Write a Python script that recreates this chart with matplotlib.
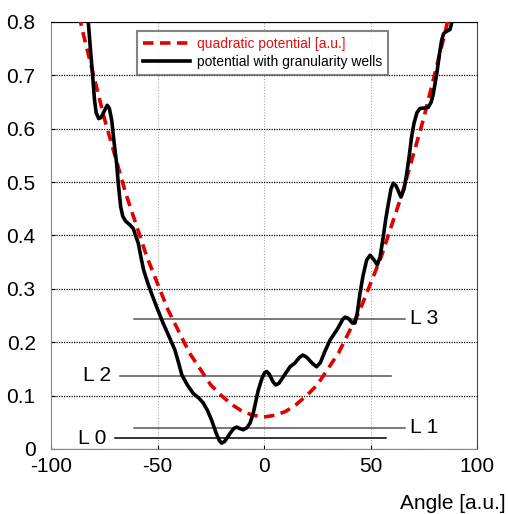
import matplotlib
matplotlib.use("Agg")
from matplotlib import pyplot as plt

plt.rcParams['font.family'] = ['Liberation Sans', 'DejaVu Sans']
plt.rcParams['axes.unicode_minus'] = False

# quadratic potential, read every 5 units
quad_x = [-90, -85, -80, -75, -70, -65, -60, -55, -50, -45, -40, -35, -30, -25, -20,
          -15, -10, -5, 0, 5, 10, 15, 20, 25, 30, 35, 40, 45, 50, 55, 60, 65, 70,
          75, 80, 85, 90]
quad_y = [0.87, 0.78, 0.70, 0.62, 0.55, 0.48, 0.42, 0.36, 0.31, 0.26, 0.22, 0.18,
          0.15, 0.12, 0.10, 0.083, 0.07, 0.063, 0.06, 0.063, 0.07, 0.083, 0.10,
          0.12, 0.15, 0.18, 0.22, 0.26, 0.31, 0.36, 0.42, 0.48, 0.55, 0.62, 0.70,
          0.78, 0.87]

# potential with granularity wells
gran_x = [-83.5, -82.5, -81.4, -80.4, -79.6, -78.8, -77.6, -76.5, -75.0, -73.6,
          -72.6, -71.5, -70.4, -69.2, -68.4, -67.3, -66.3, -65.0, -63.0, -61.4,
          -59.0, -57.8, -56.5, -54.5, -52.5, -50.0, -47.3, -44.5, -41.8, -40.0,
          -38.6, -36.0, -33.2, -30.5, -28.5, -26.5, -24.6, -22.5, -21.0, -19.9,
          -18.5, -16.0, -14.3, -12.8, -11.2, -9.7, -8.0, -6.6, -5.0, -2.7,
          -1.0, 0.3, 1.3, 2.5, 4.2, 5.5, 7.0, 9.5, 12.2, 14.5,
          16.5, 18.2, 20.0, 22.8, 24.7, 26.5, 28.5, 31.0, 34.5, 37.0,
          38.0, 39.5, 41.5, 42.7, 43.8, 45.0, 46.5, 48.2, 49.8, 51.5,
          53.2, 54.5, 56.0, 57.2, 58.4, 59.6, 60.7, 62.0, 64.3, 65.8,
          67.0, 68.2, 69.3, 70.4, 71.8, 73.2, 75.3, 77.1, 78.5, 79.5,
          81.1, 82.3, 83.4, 84.3, 85.5, 87.3, 88.1, 89.5]
gran_y = [0.85, 0.80, 0.745, 0.697, 0.655, 0.630, 0.619, 0.621, 0.633, 0.644,
          0.638, 0.616, 0.575, 0.535, 0.497, 0.454, 0.436, 0.427, 0.420, 0.413,
          0.385, 0.360, 0.335, 0.310, 0.288, 0.262, 0.235, 0.210, 0.185, 0.160,
          0.139, 0.120, 0.104, 0.095, 0.086, 0.072, 0.054, 0.030, 0.016, 0.011,
          0.014, 0.029, 0.038, 0.041, 0.038, 0.036, 0.040, 0.048, 0.068, 0.110,
          0.132, 0.143, 0.145, 0.140, 0.126, 0.120, 0.123, 0.138, 0.154, 0.161,
          0.171, 0.176, 0.172, 0.160, 0.154, 0.162, 0.182, 0.204, 0.225, 0.243,
          0.247, 0.245, 0.236, 0.236, 0.255, 0.290, 0.325, 0.354, 0.363, 0.355,
          0.345, 0.360, 0.398, 0.432, 0.460, 0.487, 0.498, 0.493, 0.472, 0.488,
          0.516, 0.550, 0.585, 0.610, 0.630, 0.638, 0.639, 0.640, 0.650, 0.666,
          0.703, 0.738, 0.766, 0.778, 0.782, 0.786, 0.798, 0.83]

# energy levels: name, y, x start, x end, label side
lev_names = ["L 0", "L 1", "L 2", "L 3"]
lev_y = [0.020, 0.040, 0.137, 0.244]
lev_x0 = [-69.8, -60.9, -67.6, -60.9]
lev_x1 = [57.3, 66.2, 59.5, 66.2]
lev_side = ["left", "right", "left", "right"]

fig = plt.figure(figsize=(5.08, 5.14), dpi=100)
ax = fig.add_axes([0.1004, 0.1265, 0.8386, 0.8307])

for i in range(len(lev_names)):
    col = "black" if i == 0 else "#555555"
    ax.plot([lev_x0[i], lev_x1[i]], [lev_y[i], lev_y[i]], color=col, lw=1.1, zorder=2)
    if lev_side[i] == "left":
        ax.text(lev_x0[i] - 4, lev_y[i], lev_names[i], ha="right", va="center", fontsize=15)
    else:
        ax.text(lev_x1[i] + 2.5, lev_y[i], lev_names[i], ha="left", va="center", fontsize=15)

ax.plot(quad_x, quad_y, color="#e00000", lw=2.6, linestyle=(0, (2.9, 1.8)),
        label="quadratic potential [a.u.]", zorder=3)
ax.plot(gran_x, gran_y, color="black", lw=2.6, solid_joinstyle="round",
        label="potential with granularity wells", zorder=4)

ax.set_xlim(-100, 100)
ax.set_ylim(0, 0.8)
ax.set_xticks([-100, -50, 0, 50, 100])
ax.set_yticks([0, 0.1, 0.2, 0.3, 0.4, 0.5, 0.6, 0.7, 0.8])
ax.set_yticklabels(["0", "0.1", "0.2", "0.3", "0.4", "0.5", "0.6", "0.7", "0.8"])
ax.tick_params(labelsize=15, direction="in", length=3, width=0.8)
ax.tick_params(axis="x", pad=6)
ax.tick_params(axis="y", pad=11)

ax.yaxis.grid(True, color="black", linestyle=(0, (1, 1)), lw=0.9)
ax.xaxis.grid(True, color="#aaaaaa", linestyle=(0, (1, 1.5)), lw=0.8)
ax.set_axisbelow(True)

ax.spines["top"].set_color("black")
for side in ["left", "bottom"]:
    ax.spines[side].set_color("#888888")
    ax.spines[side].set_linestyle((0, (1, 1)))
ax.spines["right"].set_color("#444444")

leg = ax.legend(loc="upper left", bbox_to_anchor=(0.203, 0.978), fontsize=10,
                frameon=True, fancybox=False, handlelength=3.4, borderpad=0.4,
                labelspacing=0.3, handletextpad=0.5, borderaxespad=0)
leg.get_frame().set_edgecolor("#666666")
leg.get_frame().set_linewidth(1.5)
leg.get_texts()[0].set_color("#e01010")

fig.text(0.995, 0.021, "Angle [a.u.]", ha="right", va="center", fontsize=15)

plt.savefig("out.png")
